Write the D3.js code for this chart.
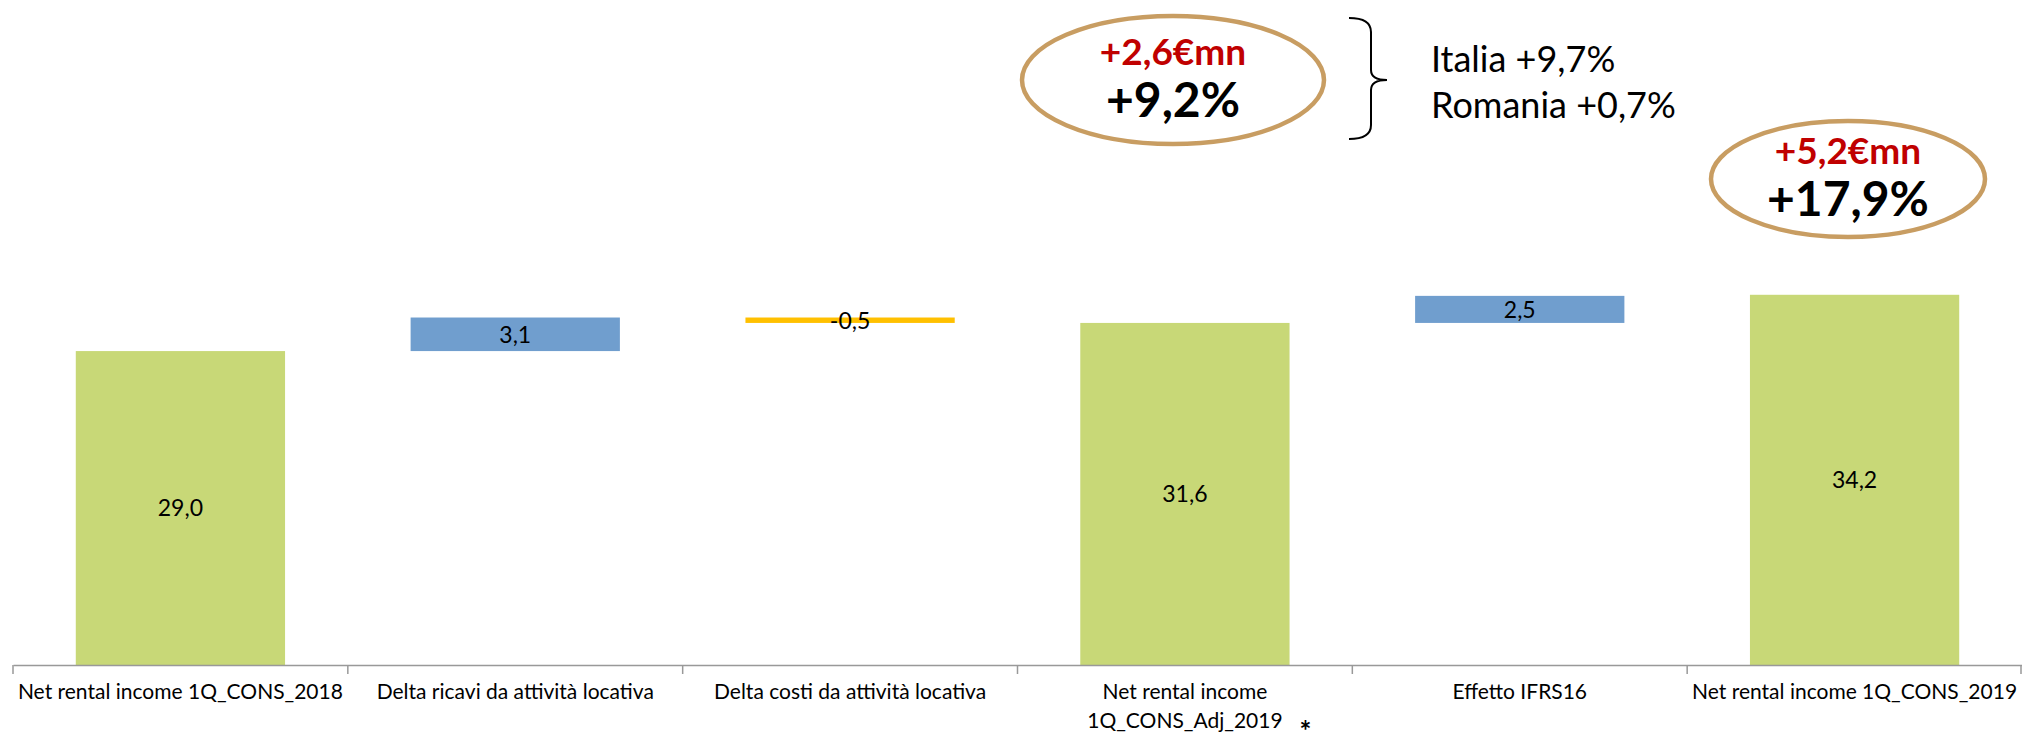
<!DOCTYPE html>
<html>
<head>
<meta charset="utf-8">
<script src="https://cdn.jsdelivr.net/npm/d3@7"></script>
<style>
  body { margin: 0; background: #fff; }
  svg { display: block; font-family: Lato, "Open Sans", sans-serif; }
</style>
</head>
<body>
<script>
// chart data (waterfall)
var categories = ["Net rental income 1Q_CONS_2018", "Delta ricavi da attività locativa",
  "Delta costi da attività locativa", "Net rental income\n1Q_CONS_Adj_2019",
  "Effetto IFRS16", "Net rental income 1Q_CONS_2019"];
var values = [29.0, 3.1, -0.5, 31.6, 2.5, 34.2];
var kinds = ["total", "delta", "delta", "total", "delta", "total"];

// callouts
var growthLeft = ["+2,6€mn", "+9,2%"];
var growthRight = ["+5,2€mn", "+17,9%"];
var countryNotes = ["Italia +9,7%", "Romania +0,7%"];

var width = 2022, height = 748;
var margin = {top: 232, right: 0, bottom: 83, left: 13};

var svg = d3.select("body").append("svg")
  .attr("width", width)
  .attr("height", height);

var locale = d3.formatLocale({decimal: ",", thousands: ".", grouping: [3], currency: ["", "€"], minus: "-"});
var fmt = locale.format(".1f");

// build start / end of each step
var run = 0;
var rows = categories.map(function(c, i) {
  var start, end;
  if (kinds[i] == "total") { start = 0; end = values[i]; }
  else { start = run; end = run + values[i]; }
  run = end;
  return {cat: c, value: values[i], kind: kinds[i], y0: Math.min(start, end), y1: Math.max(start, end)};
});

var x = d3.scaleBand()
  .domain(categories)
  .range([margin.left, width])
  .paddingInner(0.375)
  .paddingOuter(0.1875);

var y = d3.scaleLinear()
  .domain([0, 40])
  .range([height - margin.bottom, margin.top]);

function colour(d) {
  if (d.kind == "total") return "#C8D877";
  return d.value >= 0 ? "#709ECE" : "#FFC000";
}

// bars
svg.append("g").selectAll("rect")
  .data(rows)
  .enter().append("rect")
  .attr("x", function(d) { return x(d.cat); })
  .attr("width", x.bandwidth())
  .attr("y", function(d) { return y(d.y1); })
  .attr("height", function(d) { return y(d.y0) - y(d.y1); })
  .attr("fill", colour);

// value labels
svg.append("g").selectAll("text")
  .data(rows)
  .enter().append("text")
  .attr("x", function(d) { return x(d.cat) + x.bandwidth() / 2; })
  .attr("y", function(d) { return (y(d.y0) + y(d.y1)) / 2; })
  .attr("dy", "0.36em")
  .attr("text-anchor", "middle")
  .attr("font-size", 23)
  .attr("fill", "#000")
  .text(function(d) { return fmt(d.value); });

// x axis, ticks between categories
var axisY = y(0);
var xAxis = svg.append("g")
  .attr("transform", "translate(0," + axisY + ")")
  .call(d3.axisBottom(x).tickSize(0).tickPadding(19));
xAxis.select(".domain").attr("stroke", "#999").attr("stroke-width", 1.5);
xAxis.selectAll(".tick text")
  .attr("font-size", 21)
  .attr("font-family", "Lato, sans-serif")
  .attr("fill", "#000")
  .each(function(d) {
    var t = d3.select(this), lines = d.split("\n");
    t.text(null);
    lines.forEach(function(l, i) {
      t.append("tspan").attr("x", 0).attr("dy", i == 0 ? "0.71em" : "1.4em").text(l);
    });
  });

var edge = (x.step() - x.bandwidth()) / 2;
var bounds = categories.map(function(c) { return x(c) - edge; });
bounds.push(width - 1);
svg.append("g").selectAll("line")
  .data(bounds)
  .enter().append("line")
  .attr("x1", function(d) { return d; })
  .attr("x2", function(d) { return d; })
  .attr("y1", axisY)
  .attr("y2", axisY + 9)
  .attr("stroke", "#999")
  .attr("stroke-width", 1.5);

// footnote asterisk under the adjusted label
svg.append("text")
  .attr("x", x(categories[3]) + x.bandwidth() + 16)
  .attr("y", 741)
  .attr("text-anchor", "middle")
  .attr("font-size", 28)
  .attr("font-weight", "bold")
  .text("*");

// growth ellipses
function callout(cx, cy, rx, ry, txt) {
  var g = svg.append("g");
  g.append("ellipse")
    .attr("cx", cx).attr("cy", cy).attr("rx", rx).attr("ry", ry)
    .attr("fill", "none").attr("stroke", "#C89D62").attr("stroke-width", 4.5);
  g.append("text")
    .attr("x", cx).attr("y", cy - 15)
    .attr("text-anchor", "middle")
    .attr("font-size", 37).attr("font-weight", "bold").attr("fill", "#C00000")
    .text(txt[0]);
  g.append("text")
    .attr("x", cx).attr("y", cy + 37)
    .attr("text-anchor", "middle")
    .attr("font-size", 48).attr("font-weight", "bold").attr("fill", "#000")
    .text(txt[1]);
}
callout(1173, 80, 151, 64, growthLeft);
callout(1848, 179, 137, 58, growthRight);

// brace and country notes
var bx = 1349, bTop = 18, bBot = 139, bMid = 80;
svg.append("path")
  .attr("d", "M" + bx + "," + bTop + " Q" + (bx + 22) + "," + bTop + " " + (bx + 22) + "," + (bTop + 14) +
    " L" + (bx + 22) + "," + (bMid - 10) + " Q" + (bx + 22) + "," + bMid + " " + (bx + 38) + "," + bMid +
    " Q" + (bx + 22) + "," + bMid + " " + (bx + 22) + "," + (bMid + 10) +
    " L" + (bx + 22) + "," + (bBot - 14) + " Q" + (bx + 22) + "," + bBot + " " + bx + "," + bBot)
  .attr("fill", "none").attr("stroke", "#000").attr("stroke-width", 2);

svg.append("g").selectAll("text")
  .data(countryNotes)
  .enter().append("text")
  .attr("x", 1431)
  .attr("y", function(d, i) { return 72 + i * 46; })
  .attr("font-size", 36)
  .attr("fill", "#000")
  .text(function(d) { return d; });
</script>
</body>
</html>
